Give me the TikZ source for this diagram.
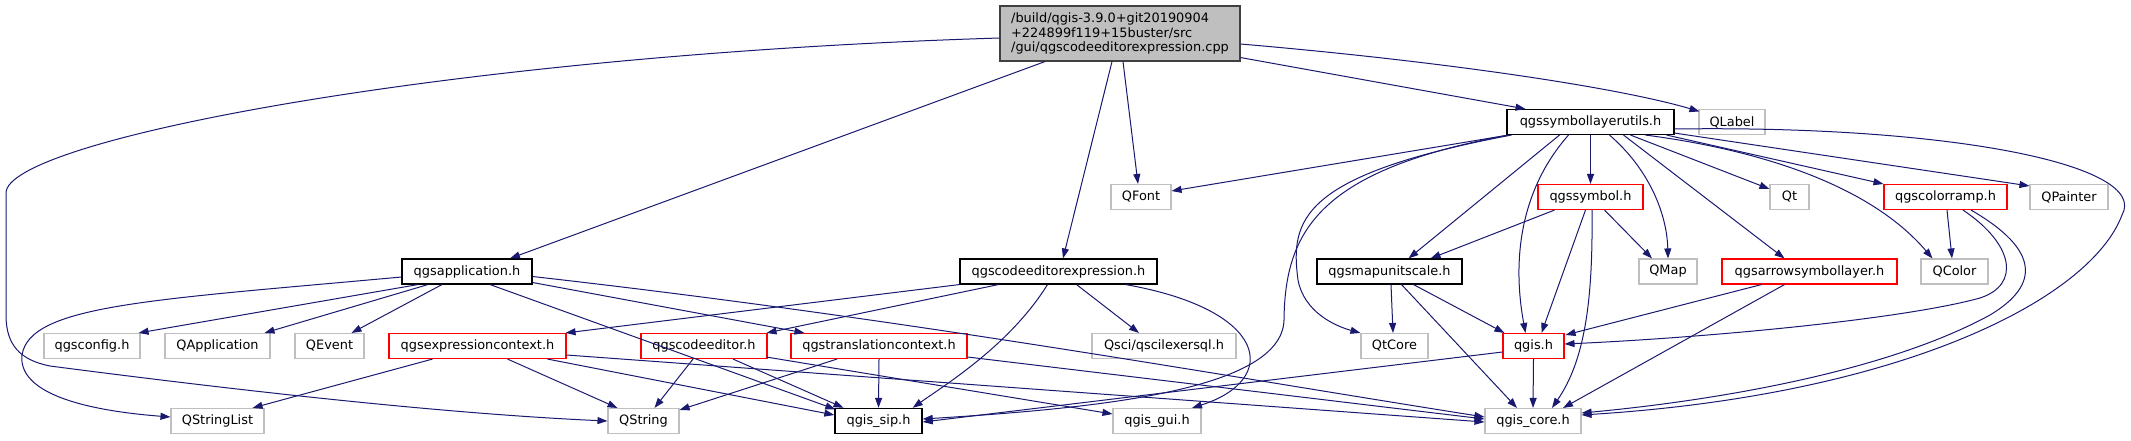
\documentclass[tikz,border=0pt]{standalone}
\usepackage{fontspec}
\setmainfont{DejaVu Sans}
\usetikzlibrary{arrows.meta, calc}
\definecolor{edgecol}{HTML}{191970}
\definecolor{greybox}{HTML}{BFBFBF}
\definecolor{rootline}{HTML}{404040}
\definecolor{truncred}{HTML}{FF0000}

\begin{document}
\begin{tikzpicture}[x=1pt, y=-1pt,
  file/.style={draw, line width=1.1pt, fill=white, inner sep=0pt,
    minimum height=25pt, font=\fontsize{12.9}{14.7}\selectfont},
  doc/.style={file, draw=black},
  undoc/.style={file, draw=greybox},
  trunc/.style={file, draw=truncred},
  root/.style={file, draw=rootline, fill=greybox},
  wd/.style={minimum width=#1pt},
  dep/.style={color=edgecol, line width=1pt, -{Triangle[length=10pt, width=7pt]}}]

  \useasboundingbox (0,0) rectangle (2131,440);

  % root file
  \node[root, wd=240, minimum height=55pt, align=left] (main) at (1120,33.5)
    {/build/qgis-3.9.0+git20190904\\+224899f119+15buster/src\\/gui/qgscodeeditorexpression.cpp};

  % second row
  \node[doc, wd=167] (slu) at (1590.5,122) {qgssymbollayerutils.h};
  \node[undoc, wd=66] (qlabel) at (1732,122) {QLabel};

  % third row
  \node[undoc, wd=60] (qfont) at (1141,197) {QFont};
  \node[trunc, wd=105] (qgssymbol) at (1590.5,197) {qgssymbol.h};
  \node[undoc, wd=39] (qt) at (1789.5,197) {Qt};
  \node[trunc, wd=123] (colorramp) at (1945.5,197) {qgscolorramp.h};
  \node[undoc, wd=78] (qpainter) at (2069,197) {QPainter};

  % fourth row
  \node[doc, wd=130] (app) at (467,271.5) {qgsapplication.h};
  \node[doc, wd=197] (cee) at (1058.5,271.5) {qgscodeeditorexpression.h};
  \node[doc, wd=145] (mus) at (1389.5,271.5) {qgsmapunitscale.h};
  \node[undoc, wd=58] (qmap) at (1668,271.5) {QMap};
  \node[trunc, wd=175] (arrowsl) at (1809.5,271.5) {qgsarrowsymbollayer.h};
  \node[undoc, wd=67] (qcolor) at (1954.5,271.5) {QColor};

  % fifth row
  \node[undoc, wd=96] (qgsconfig) at (92,346) {qgsconfig.h};
  \node[undoc, wd=105] (qapplication) at (217.5,346) {QApplication};
  \node[undoc, wd=69] (qevent) at (329.5,346) {QEvent};
  \node[trunc, wd=177] (exprctx) at (477.5,346) {qgsexpressioncontext.h};
  \node[trunc, wd=126] (codeeditor) at (704,346) {qgscodeeditor.h};
  \node[trunc, wd=176] (transctx) at (879,346) {qgstranslationcontext.h};
  \node[undoc, wd=144] (qsci) at (1164,346) {Qsci/qscilexersql.h};
  \node[undoc, wd=67] (qtcore) at (1394.5,346) {QtCore};
  \node[trunc, wd=61] (qgis) at (1533.5,346) {qgis.h};

  % bottom row
  \node[undoc, wd=93] (qstringlist) at (217.5,421) {QStringList};
  \node[undoc, wd=71] (qstring) at (643.5,421) {QString};
  \node[doc, wd=87, line width=1.4pt] (sip) at (878.5,421) {qgis\_sip.h};
  \node[undoc, wd=88] (gui) at (1157,421) {qgis\_gui.h};
  \node[undoc, wd=96] (core) at (1533,421) {qgis\_core.h};

  % includes of the root file
  \draw[dep] ($(main.south)+(-75,0)$) -- ($(app.north)+(43,0)$);
  \draw[dep] ($(main.west)+(0,4.5)$) .. controls (450,55) and (6,140) .. (6,193) -- (6,315)
    .. controls (6,345) and (20,360) .. (50,366) .. controls (250,392) and (450,414) .. (qstring.west);
  \draw[dep] ($(main.south)+(-8,0)$) -- ($(cee.north)+(4.5,0)$);
  \draw[dep] ($(main.south)+(3,0)$) -- ($(qfont.north)+(-3,0)$);
  \draw[dep] ($(main.south east)+(0,-4)$) -- ($(slu.north)+(-65,0)$);
  \draw[dep] ($(main.east)+(0,10.5)$) .. controls (1450,62) and (1620,88) .. ($(qlabel.north west)+(1,2.5)$);

  % qgsapplication.h
  \draw[dep] ($(app.west)+(0,5.5)$) .. controls (150,300) and (30,305) .. (22,355)
    .. controls (18,392) and (80,410) .. ($(qstringlist.west)+(0,-4)$);
  \draw[dep] ($(app.south)+(-49,0)$) -- ($(qgsconfig.north east)+(-2,0)$);
  \draw[dep] ($(app.south)+(-39,0)$) -- ($(qapplication.north)+(47,0)$);
  \draw[dep] ($(app.south)+(-25,0)$) -- ($(qevent.north)+(22,0)$);
  \draw[dep] ($(app.south)+(23,0)$) -- ($(sip.north west)+(1,1.5)$);
  \draw[dep] ($(app.east)+(0,11)$) -- ($(transctx.north west)+(14,0)$);
  \draw[dep] ($(app.east)+(0,5)$) .. controls (900,318) and (1200,372) .. ($(core.west)+(0,-4)$);

  % qgscodeeditorexpression.h
  \draw[dep] (cee.south west) -- ($(exprctx.north east)+(-1,0)$);
  \draw[dep] ($(cee.south)+(-60,0)$) -- ($(codeeditor.north east)+(-1,0)$);
  \draw[dep] ($(cee.south)+(-11,0)$) .. controls (1010,345) and (945,385) .. ($(sip.north east)+(-10,0)$);
  \draw[dep] ($(cee.south)+(18,0)$) -- ($(qsci.north)+(-25,0)$);
  \draw[dep] ($(cee.south)+(67,0)$) .. controls (1270,310) and (1280,380) .. ($(gui.north)+(35,0)$);

  % qgsexpressioncontext.h
  \draw[dep] ($(exprctx.south)+(-45,0)$) -- ($(qstringlist.north east)+(-12,0)$);
  \draw[dep] ($(exprctx.south)+(30,0)$) -- ($(qstring.north)+(-26,0)$);
  \draw[dep] ($(exprctx.south)+(70,0)$) -- ($(sip.west)+(0,-6)$);
  \draw[dep] ($(exprctx.east)+(0,9)$) -- ($(core.west)+(0,1)$);

  % qgscodeeditor.h
  \draw[dep] ($(codeeditor.south)+(-11,0)$) -- ($(qstring.north)+(11,0)$);
  \draw[dep] ($(codeeditor.south)+(29,0)$) -- ($(sip.north)+(-35,0)$);
  \draw[dep] ($(codeeditor.south east)+(-1,-2)$) -- ($(gui.west)+(0,-7)$);

  % qgstranslationcontext.h
  \draw[dep] ($(transctx.south)+(-42,0)$) -- ($(qstring.north east)+(0,2)$);
  \draw[dep] (transctx.south) -- (sip.north);
  \draw[dep] ($(transctx.east)+(0,11)$) -- ($(core.west)+(0,-2)$);

  % qgssymbollayerutils.h
  \draw[dep] ($(slu.south west)+(2,0)$) -- ($(qfont.east)+(0,-6)$);
  \draw[dep] ($(slu.south west)+(2,0)$) .. controls (1320,170) and (1285,230) .. (1284,320)
    .. controls (1282,390) and (1100,408) .. ($(sip.east)+(0,-2)$);
  \draw[dep] ($(slu.south west)+(5,0)$) .. controls (1300,175) and (1290,220) .. (1298,280)
    .. controls (1304,312) and (1335,326) .. (qtcore.north west);
  \draw[dep] ($(slu.south)+(-31,0)$) -- ($(mus.north)+(19,0)$);
  \draw[dep] ($(slu.south)+(-22,0)$) .. controls (1520,190) and (1512,260) .. ($(qgis.north)+(-8,0)$);
  \draw[dep] (slu.south) -- (qgssymbol.north);
  \draw[dep] ($(slu.south)+(19,0)$) .. controls (1650,170) and (1667,215) .. (qmap.north);
  \draw[dep] ($(slu.south)+(33,0)$) -- ($(arrowsl.north)+(-25,0)$);
  \draw[dep] ($(slu.south)+(40,0)$) -- ($(qt.west)+(0,-8)$);
  \draw[dep] ($(slu.south)+(55,0)$) .. controls (1760,150) and (1870,185) .. ($(qcolor.north west)+(12,0)$);
  \draw[dep] ($(slu.south east)+(-8,0)$) -- (colorramp.north west);
  \draw[dep] ($(slu.south east)+(0,-2)$) -- ($(qpainter.north west)+(0,2)$);
  \draw[dep] ($(slu.east)+(0,7)$) .. controls (1950,125) and (2150,165) .. (2122,215)
    .. controls (2090,300) and (1900,395) .. ($(core.east)+(0,-6)$);

  % qgssymbol.h
  \draw[dep] ($(qgssymbol.south)+(-36,0)$) -- ($(mus.north east)+(-32,0)$);
  \draw[dep] ($(qgssymbol.south)+(-5,0)$) -- ($(qgis.north)+(8,0)$);
  \draw[dep] ($(qgssymbol.south)+(1.5,0)$) .. controls (1593,300) and (1585,360) .. ($(core.north)+(19,0)$);
  \draw[dep] ($(qgssymbol.south)+(14,0)$) -- ($(qmap.north)+(-16,0)$);

  % qgsmapunitscale.h
  \draw[dep] ($(mus.south)+(1.5,0)$) -- ($(qtcore.north)+(-1.5,0)$);
  \draw[dep] ($(mus.south)+(12,0)$) -- ($(core.north)+(-16,0)$);
  \draw[dep] ($(mus.south)+(24,0)$) -- ($(qgis.north west)+(2,0)$);

  % qgsarrowsymbollayer.h
  \draw[dep] ($(arrowsl.south)+(-48,0)$) -- ($(qgis.north east)+(1,2)$);
  \draw[dep] ($(arrowsl.south)+(-25,0)$) -- ($(core.north)+(30,0)$);

  % qgscolorramp.h
  \draw[dep] ($(colorramp.south)+(1.5,0)$) -- ($(qcolor.north)+(-2.5,0)$);
  \draw[dep] ($(colorramp.south)+(17.5,0)$) .. controls (2015,245) and (2020,285) .. (1980,298)
    .. controls (1900,320) and (1700,338) .. ($(qgis.east)+(0,-2)$);
  \draw[dep] ($(colorramp.south)+(25.5,0)$) .. controls (2040,250) and (2040,285) .. (1990,315)
    .. controls (1880,375) and (1700,402) .. ($(core.east)+(0,-8)$);

  % qgis.h
  \draw[dep] (qgis.south) -- (core.north);
  \draw[dep] ($(qgis.west)+(0,6)$) -- ($(sip.east)+(0,1)$);

\end{tikzpicture}
\end{document}
